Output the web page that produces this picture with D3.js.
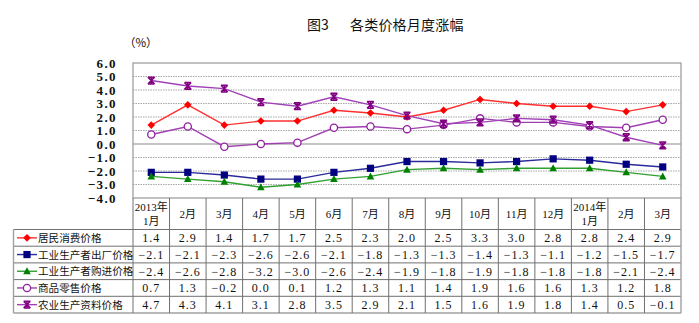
<!DOCTYPE html>
<html><head><meta charset="utf-8">
<script src="https://cdn.jsdelivr.net/npm/d3@7"></script>
<style>
body{margin:0;background:#fff;}
svg{display:block;}
text{font-family:"Liberation Serif","DejaVu Serif","Noto Sans CJK SC",serif;fill:#111;}
</style></head>
<body>
<script>
const months = ["2013年|1月","2月","3月","4月","5月","6月","7月","8月","9月","10月","11月","12月","2014年|1月","2月","3月"];
const seriesNames = ["居民消费价格","工业生产者出厂价格","工业生产者购进价格","商品零售价格","农业生产资料价格"];
const cpi   = [1.4,2.9,1.4,1.7,1.7,2.5,2.3,2.0,2.5,3.3,3.0,2.8,2.8,2.4,2.9];
const ppi   = [-2.1,-2.1,-2.3,-2.6,-2.6,-2.1,-1.8,-1.3,-1.3,-1.4,-1.3,-1.1,-1.2,-1.5,-1.7];
const ppirm = [-2.4,-2.6,-2.8,-3.2,-3.0,-2.6,-2.4,-1.9,-1.8,-1.9,-1.8,-1.8,-1.8,-2.1,-2.4];
const rpi   = [0.7,1.3,-0.2,0.0,0.1,1.2,1.3,1.1,1.4,1.9,1.6,1.6,1.3,1.2,1.8];
const agri  = [4.7,4.3,4.1,3.1,2.8,3.5,2.9,2.1,1.5,1.6,1.9,1.8,1.4,0.5,-0.1];
const yTicks = [6,5,4,3,2,1,0,-1,-2,-3,-4];
const titleA = "图3";
const titleB = "各类价格月度涨幅";
const unit = "（%）";

(function(){
const seriesValues = [cpi, ppi, ppirm, rpi, agri];
const styles = [
  {line:"#ff3030", marker:"diamond", fill:"#ff0000", stroke:"#ff0000"},
  {line:"#2a2a9a", marker:"square", fill:"#000080", stroke:"#000080"},
  {line:"#30a030", marker:"triangle", fill:"#008000", stroke:"#008000"},
  {line:"#a040b0", marker:"circle", fill:"#ffffff", stroke:"#9020a0"},
  {line:"#a040b8", marker:"star", fill:"#800080", stroke:"#800080"}
];

const W=699,H=323;
const svg=d3.select("body").append("svg").attr("width",W).attr("height",H);
const pLeft=133,pRight=681,pTop=63,pBottom=198;
const legLeft=13.5;
const x=d3.scaleBand().domain(d3.range(months.length)).range([pLeft,pRight]);
const y=d3.scaleLinear().domain([-4,6]).range([pBottom,pTop]);
const cjk='"Noto Sans CJK SC",sans-serif';

svg.append("text").attr("x",307).attr("y",30).attr("font-size",14).style("font-family",cjk).text(titleA);
svg.append("text").attr("x",350).attr("y",30).attr("font-size",14).style("letter-spacing","0.2px").style("font-family",cjk).text(titleB);
svg.append("text").attr("x",124).attr("y",47).attr("font-size",11.5).style("font-family",cjk).text(unit);

const g=svg.append("g");
yTicks.forEach(t=>{
  if(t===6||t===-4) return;
  g.append("line").attr("x1",pLeft).attr("x2",pRight).attr("y1",y(t)).attr("y2",y(t))
   .attr("stroke",t===0?"#8a8a8a":"#a8a8a8").attr("stroke-width",1.2)
   .attr("stroke-dasharray",t===0?null:"1.5,1");
});
svg.append("rect").attr("x",pLeft).attr("y",pTop).attr("width",pRight-pLeft).attr("height",pBottom-pTop)
  .attr("fill","none").attr("stroke","#a0a0a0").attr("stroke-width",1.3);

const yAxis=d3.axisLeft(y).tickValues(yTicks).tickFormat(d3.format(".1f")).tickSize(0).tickPadding(16);
const ya=svg.append("g").attr("transform",`translate(${pLeft},0)`).call(yAxis);
ya.select(".domain").remove();
ya.selectAll("text").attr("font-size",13).attr("font-weight","bold").style("letter-spacing","1.4px")
  .style("font-family",'"Liberation Serif",serif').attr("fill","#222")
  .text(d=>d3.format(".1f")(d).replace("-","−"));

const line=d3.line().x((d,i)=>x(i)+x.bandwidth()/2).y(d=>y(d));
function drawMarker(sel,type,cx,cy,st){
  if(type==="diamond"){
    sel.append("path").attr("d",`M${cx},${cy-3.8}L${cx+3.8},${cy}L${cx},${cy+3.8}L${cx-3.8},${cy}Z`).attr("fill",st.fill);
  } else if(type==="square"){
    sel.append("rect").attr("x",cx-3.6).attr("y",cy-3.6).attr("width",7.2).attr("height",7.2).attr("fill",st.fill);
  } else if(type==="triangle"){
    sel.append("path").attr("d",`M${cx},${cy-4}L${cx+3.8},${cy+3}L${cx-3.8},${cy+3}Z`).attr("fill",st.fill);
  } else if(type==="circle"){
    sel.append("circle").attr("cx",cx).attr("cy",cy).attr("r",3.6).attr("fill","#fff").attr("stroke",st.stroke).attr("stroke-width",1.3);
  } else if(type==="star"){
    const r=3.4;
    sel.append("path").attr("d",`M${cx-r},${cy-r}L${cx+r},${cy+r}M${cx+r},${cy-r}L${cx-r},${cy+r}M${cx-r},${cy-r}L${cx+r},${cy-r}M${cx-r},${cy+r}L${cx+r},${cy+r}M${cx},${cy-r}L${cx},${cy+r}`)
      .attr("stroke",st.stroke).attr("stroke-width",1.5).attr("fill","none");
  }
}
seriesValues.forEach((vals,k)=>{
  svg.append("path").datum(vals).attr("d",line).attr("fill","none").attr("stroke",styles[k].line).attr("stroke-width",1.4);
});
seriesValues.forEach((vals,k)=>{
  const st=styles[k];
  const mg=svg.append("g");
  vals.forEach((v,i)=>drawMarker(mg,st.marker,x(i)+x.bandwidth()/2,y(v),st));
});

const headerTop=pBottom, headerBottom=229.5;
const rowH=(313-headerBottom)/5;
const tg=svg.append("g");
const lineCol="#707070";
tg.append("line").attr("x1",legLeft).attr("x2",pRight).attr("y1",headerBottom).attr("y2",headerBottom).attr("stroke",lineCol);
for(let r=1;r<=5;r++){
  const yy=headerBottom+r*rowH;
  tg.append("line").attr("x1",legLeft).attr("x2",pRight).attr("y1",yy).attr("y2",yy).attr("stroke",r===5?"#a0a0a0":lineCol).attr("stroke-width",r===5?1.4:1);
}
for(let i=0;i<=months.length;i++){
  const xx=i<months.length?x(i):pRight;
  tg.append("line").attr("x1",xx).attr("x2",xx).attr("y1",headerTop).attr("y2",313).attr("stroke",i===months.length?"#a0a0a0":lineCol).attr("stroke-width",i===months.length?1.4:1);
}
tg.append("line").attr("x1",legLeft).attr("x2",legLeft).attr("y1",headerBottom).attr("y2",313).attr("stroke","#a0a0a0").attr("stroke-width",1.4);

months.forEach((m,i)=>{
  const cx=x(i)+x.bandwidth()/2;
  const parts=m.split("|");
  const t=tg.append("text").attr("text-anchor","middle").attr("font-size",11)
    .style("font-family",'"Liberation Serif","Noto Sans CJK SC",serif');
  if(parts.length===2){
    t.append("tspan").attr("x",cx).attr("y",211).text(parts[0]);
    t.append("tspan").attr("x",cx).attr("y",225).text(parts[1]);
  } else {
    t.attr("x",cx).attr("y",218).text(m);
  }
});
seriesValues.forEach((vals,k)=>{
  const cy=headerBottom+k*rowH+rowH/2;
  vals.forEach((v,i)=>{
    tg.append("text").attr("x",x(i)+x.bandwidth()/2).attr("y",cy+4.5).attr("text-anchor","middle")
      .attr("font-size",12).style("letter-spacing","1px").style("font-family",'"Liberation Serif",serif')
      .text(d3.format(".1f")(v).replace("-","−"));
  });
  const st=styles[k];
  tg.append("line").attr("x1",17).attr("x2",37).attr("y1",cy).attr("y2",cy).attr("stroke",st.line).attr("stroke-width",1.4);
  drawMarker(tg,st.marker,27,cy,st);
  tg.append("text").attr("x",38).attr("y",cy+4.2).attr("font-size",10.6)
    .style("font-family",cjk).text(seriesNames[k]);
});
})();
</script>
</body></html>
